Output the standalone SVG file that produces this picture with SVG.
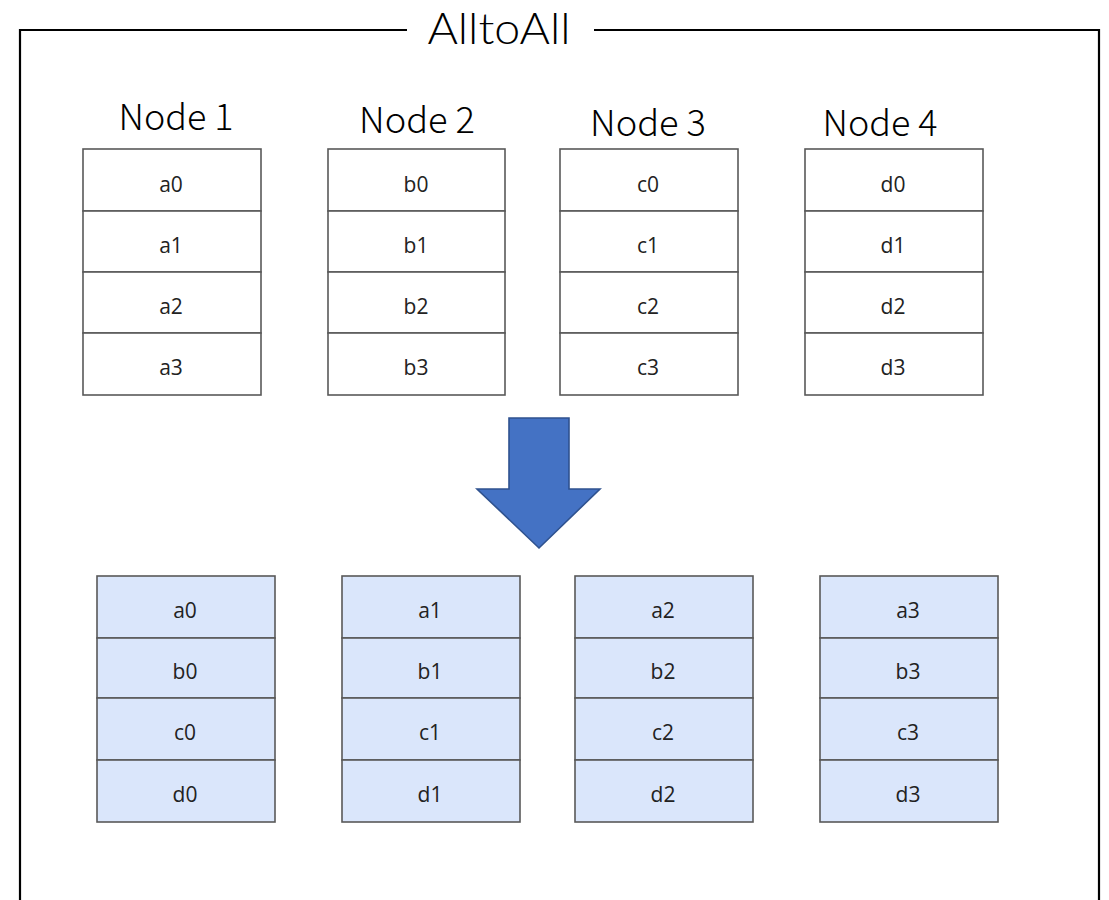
<svg xmlns="http://www.w3.org/2000/svg" width="1109" height="900" viewBox="0 0 1109 900">
<style>
.frame{fill:none;stroke:#000;stroke-width:2.2}
.cell{fill:#fff;stroke:#595959;stroke-width:1.6}
.cellb{fill:#DAE6FB;stroke:#595959;stroke-width:1.6}
.t{font-family:"Open Sans","Noto Sans",sans-serif;font-size:21px;fill:#222;text-anchor:middle}
.lbl{font-family:"Noto Sans CJK SC","Noto Sans",sans-serif;font-weight:300;font-size:36px;fill:#000;text-anchor:middle}
.title{font-family:Lato,"Noto Sans",sans-serif;font-weight:300;font-size:44px;fill:#000;text-anchor:middle}
</style>
<rect width="1109" height="900" fill="#fff"/>
<g id="frame">
<polyline class="frame" points="407,30 20,30 20,900"/>
<polyline class="frame" points="594,30 1099,30 1099,900"/>
<text class="title" x="499" y="44" textLength="143" lengthAdjust="spacingAndGlyphs">AlltoAll</text>
</g>
<g id="node1">
<text class="lbl" x="176" y="130" textLength="115" lengthAdjust="spacingAndGlyphs">Node 1</text>
<rect class="cell" x="83" y="149" width="178" height="62"/><text class="t" x="171" y="192">a0</text>
<rect class="cell" x="83" y="211" width="178" height="61"/><text class="t" x="171" y="253">a1</text>
<rect class="cell" x="83" y="272" width="178" height="61"/><text class="t" x="171" y="314">a2</text>
<rect class="cell" x="83" y="333" width="178" height="62"/><text class="t" x="171" y="375">a3</text>
</g>
<g id="node2">
<text class="lbl" x="417" y="133" textLength="116" lengthAdjust="spacingAndGlyphs">Node 2</text>
<rect class="cell" x="328" y="149" width="177" height="62"/><text class="t" x="416" y="192">b0</text>
<rect class="cell" x="328" y="211" width="177" height="61"/><text class="t" x="416" y="253">b1</text>
<rect class="cell" x="328" y="272" width="177" height="61"/><text class="t" x="416" y="314">b2</text>
<rect class="cell" x="328" y="333" width="177" height="62"/><text class="t" x="416" y="375">b3</text>
</g>
<g id="node3">
<text class="lbl" x="648" y="136" textLength="116" lengthAdjust="spacingAndGlyphs">Node 3</text>
<rect class="cell" x="560" y="149" width="178" height="62"/><text class="t" x="648" y="192">c0</text>
<rect class="cell" x="560" y="211" width="178" height="61"/><text class="t" x="648" y="253">c1</text>
<rect class="cell" x="560" y="272" width="178" height="61"/><text class="t" x="648" y="314">c2</text>
<rect class="cell" x="560" y="333" width="178" height="62"/><text class="t" x="648" y="375">c3</text>
</g>
<g id="node4">
<text class="lbl" x="880" y="136" textLength="115" lengthAdjust="spacingAndGlyphs">Node 4</text>
<rect class="cell" x="805" y="149" width="178" height="62"/><text class="t" x="893" y="192">d0</text>
<rect class="cell" x="805" y="211" width="178" height="61"/><text class="t" x="893" y="253">d1</text>
<rect class="cell" x="805" y="272" width="178" height="61"/><text class="t" x="893" y="314">d2</text>
<rect class="cell" x="805" y="333" width="178" height="62"/><text class="t" x="893" y="375">d3</text>
</g>
<g id="connectors">
<polygon points="509,418 569,418 569,489 600,489 539,548 477,489 509,489" fill="#4472C4" stroke="#2F528F" stroke-width="1.6" stroke-linejoin="miter"/>
</g>
<g id="result1">
<rect class="cellb" x="97" y="576" width="178" height="62"/><text class="t" x="185" y="618">a0</text>
<rect class="cellb" x="97" y="638" width="178" height="60"/><text class="t" x="185" y="679">b0</text>
<rect class="cellb" x="97" y="698" width="178" height="62"/><text class="t" x="185" y="740">c0</text>
<rect class="cellb" x="97" y="760" width="178" height="62"/><text class="t" x="185" y="802">d0</text>
</g>
<g id="result2">
<rect class="cellb" x="342" y="576" width="178" height="62"/><text class="t" x="430" y="618">a1</text>
<rect class="cellb" x="342" y="638" width="178" height="60"/><text class="t" x="430" y="679">b1</text>
<rect class="cellb" x="342" y="698" width="178" height="62"/><text class="t" x="430" y="740">c1</text>
<rect class="cellb" x="342" y="760" width="178" height="62"/><text class="t" x="430" y="802">d1</text>
</g>
<g id="result3">
<rect class="cellb" x="575" y="576" width="178" height="62"/><text class="t" x="663" y="618">a2</text>
<rect class="cellb" x="575" y="638" width="178" height="60"/><text class="t" x="663" y="679">b2</text>
<rect class="cellb" x="575" y="698" width="178" height="62"/><text class="t" x="663" y="740">c2</text>
<rect class="cellb" x="575" y="760" width="178" height="62"/><text class="t" x="663" y="802">d2</text>
</g>
<g id="result4">
<rect class="cellb" x="820" y="576" width="178" height="62"/><text class="t" x="908" y="618">a3</text>
<rect class="cellb" x="820" y="638" width="178" height="60"/><text class="t" x="908" y="679">b3</text>
<rect class="cellb" x="820" y="698" width="178" height="62"/><text class="t" x="908" y="740">c3</text>
<rect class="cellb" x="820" y="760" width="178" height="62"/><text class="t" x="908" y="802">d3</text>
</g>
</svg>
